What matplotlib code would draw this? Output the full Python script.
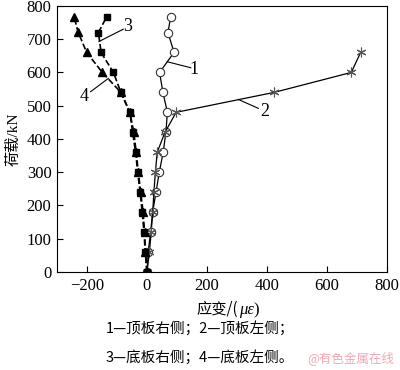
import matplotlib.pyplot as plt
from matplotlib.offsetbox import TextArea, HPacker, AnchoredOffsetbox

plt.rcParams['font.family'] = ['Liberation Serif', 'Noto Sans CJK SC']

load1 = [0, 60, 120, 180, 240, 300, 360, 420, 480, 540, 600, 660, 720, 768]
strain1 = [0, 4, 12, 19, 30, 41, 54, 63, 68, 53, 42, 90, 70, 79]

load2 = [0, 60, 120, 180, 240, 300, 360, 420, 480, 540, 600, 660]
strain2 = [0, 8, 14, 19, 23, 28, 34, 60, 97, 424, 681, 712]

load3 = [0, 60, 120, 180, 240, 300, 360, 420, 480, 540, 600, 660, 720, 768]
strain3 = [0, -6, -10, -16, -23, -31, -38, -48, -57, -87, -112, -153, -162, -134]

load4 = [0, 60, 120, 180, 240, 300, 360, 420, 480, 540, 600, 660, 722, 768]
strain4 = [0, -5, -8, -13, -21, -29, -36, -44, -57, -87, -149, -201, -230, -243]

fig = plt.figure(figsize=(4, 3.7), dpi=100)
ax = fig.add_axes([0.1425, 0.265, 0.825, 0.719])

ax.plot(strain1, load1, '-', color='black', lw=0.9, marker='o', ms=6,
        mfc='white', mec='#333333', mew=0.8)
ax.plot(strain2, load2, '-', color='black', lw=0.9, marker=(6, 2, 0), ms=7,
        mec='#555555', mew=0.8)
ax.plot(strain3, load3, '--', color='black', lw=1.2, marker='s', ms=5)
ax.plot(strain4, load4, '--', color='black', lw=1.2, marker='^', ms=6)

# leader lines and numbers
leaders = [((68, 632), (146, 614), (158, 610), '1'),
           ((304, 519), (371, 492), (391, 484), '2'),
           ((-160, 693), (-79, 730), (-64, 738), '3'),
           ((-129, 582), (-188, 542), (-209, 527), '4')]
for p0, p1, pt, txt in leaders:
    ax.plot([p0[0], p1[0]], [p0[1], p1[1]], color='black', lw=0.8)
    ax.text(pt[0], pt[1], txt, fontsize=13, ha='center', va='center')

ax.set_xlim(-300, 800)
ax.set_ylim(0, 800)
ax.set_xticks([-200, 0, 200, 400, 600, 800])
ax.set_xticklabels(['\u2212200', '0', '200', '400', '600', '800'])
ax.set_yticks(range(0, 801, 100))
ax.tick_params(direction='in', labelsize=12, length=4, width=0.8, pad=4)
for s in ax.spines.values():
    s.set_linewidth(0.8)

ax.set_ylabel('荷载/kN', fontsize=11, labelpad=4)

# x label with italic greek
cjk = ['Noto Sans CJK SC']
parts = [TextArea('应变/(', textprops=dict(fontsize=11, family=cjk)),
         TextArea('με', textprops=dict(fontsize=12, style='italic',
                                        family=['Liberation Serif'])),
         TextArea(')', textprops=dict(fontsize=12, family=['Liberation Serif']))]
box = HPacker(children=parts, align='baseline', pad=0, sep=0)
anchored = AnchoredOffsetbox(loc='center', child=box, frameon=False,
                             bbox_to_anchor=(0.57, 0.163),
                             bbox_transform=fig.transFigure, borderpad=0)
fig.add_artist(anchored)

fig.text(0.5, 0.113, '1—顶板右侧；2—顶板左侧；', fontsize=10.5, ha='center',
         va='center', family=cjk)
fig.text(0.5, 0.035, '3—底板右侧；4—底板左侧。', fontsize=10.5, ha='center',
         va='center', family=cjk)
fig.text(0.985, 0.032, '@有色金属在线', fontsize=9, ha='right', va='center',
         color='#f2a8b4', family=cjk)

fig.savefig('out.png', dpi=100)
